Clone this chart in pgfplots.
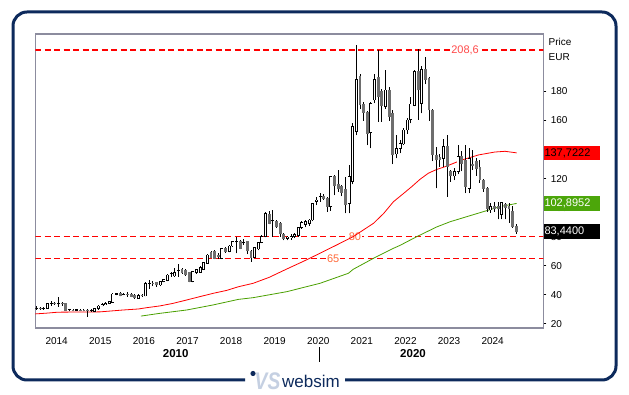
\documentclass[border=0pt]{standalone}
\usepackage{fontspec}
\setmainfont{Liberation Sans}
\usepackage{pgfplots}
\usepackage{pgfplotstable}
\pgfplotsset{compat=1.18}
\definecolor{navy}{HTML}{0D2A5C}
\definecolor{framegray}{HTML}{8C8C9E}
\definecolor{candlegray}{HTML}{6E6E6E}
\definecolor{magreen}{HTML}{4AA000}
\definecolor{boxgreen}{HTML}{4CA60A}
\definecolor{lblred}{HTML}{FF4A4A}
\definecolor{lblorange}{HTML}{FF6A3A}
\definecolor{logolight}{HTML}{C5D0E2}

% monthly candles: k o h l c  (rising = white)
\pgfplotstableread{
k o h l c
0 30.5 32.0 29.5 30.9
2 30.4 31.8 29.6 30.9
3 30.7 34.5 30.3 34.1
4 34.0 35.5 32.5 34.3
6 33.7 38.2 31.8 34.0
9 29.5 30.4 28.6 29.7
11 29.4 30.3 28.9 29.6
15 29.0 30.0 28.2 29.4
16 28.6 30.8 28.0 30.3
17 30.3 32.8 29.8 32.2
18 32.3 34.0 32.0 33.4
19 33.5 34.8 33.0 34.1
20 34.0 36.0 33.6 35.4
21 34.8 41.0 34.4 40.5
22 40.4 41.5 39.5 40.7
24 39.8 41.3 39.0 40.4
28 37.6 40.2 37.2 39.6
30 39.2 48.5 38.8 47.9
31 47.9 50.0 44.0 48.1
34 46.7 49.5 46.0 49.0
35 49.0 51.0 48.5 50.6
36 49.7 54.0 49.3 53.6
37 54.6 55.5 52.5 54.9
38 52.9 58.2 52.5 55.2
39 56.4 61.2 52.5 56.8
43 49.0 56.5 48.5 55.9
44 55.2 58.0 54.5 57.1
45 55.5 59.5 55.0 59.0
46 57.5 62.8 57.0 62.1
47 61.7 68.0 61.2 67.4
51 65.1 72.5 64.5 72.0
53 69.7 74.2 69.2 73.6
54 73.6 77.0 73.0 76.5
55 76.3 80.0 68.5 76.7
57 75.6 78.5 74.5 75.9
60 65.8 73.0 65.0 72.5
61 71.5 76.5 70.5 76.0
62 76.0 81.0 75.5 80.0
63 80.0 97.0 79.5 96.1
65 91.0 98.4 80.0 91.5
69 79.0 80.8 77.5 79.8
70 79.6 81.5 78.0 80.3
71 80.3 82.5 79.0 81.5
72 80.8 87.0 80.0 86.4
73 86.4 90.5 85.5 89.9
74 88.5 91.5 86.5 90.3
75 89.0 92.5 87.5 91.5
76 91.5 103.5 90.5 103.0
77 104.5 107.5 101.8 105.3
78 107.5 110.0 104.0 108.0
81 100.7 122.0 98.0 121.3
86 102.9 129.4 96.1 121.3
87 118.0 158.0 116.0 155.8
88 152.3 212.0 150.0 188.4
92 151.6 173.0 140.9 171.9
93 174.1 192.0 172.0 188.4
96 169.5 194.8 168.0 181.0
99 137.0 150.0 134.0 140.9
100 140.9 146.5 137.5 144.3
101 143.9 155.0 143.0 153.5
102 153.5 162.0 151.0 160.4
103 160.5 176.0 158.0 171.4
104 170.5 195.0 170.0 193.5
106 172.0 197.5 165.0 195.0
112 134.0 147.0 128.0 142.0
115 121.8 127.0 119.0 124.8
116 124.8 143.0 123.0 135.1
119 113.3 141.0 110.0 134.0
125 98.4 103.0 96.5 100.7
128 95.3 104.0 92.0 103.3
}\candleUp

% falling = grey
\pgfplotstableread{
k o h l c
1 30.9 31.5 29.8 30.5
5 34.2 35.0 33.0 33.8
7 34.0 35.0 32.5 33.5
8 34.1 34.6 29.0 29.3
10 29.6 30.3 28.8 29.4
12 29.5 30.0 28.8 29.3
13 29.3 30.0 28.5 29.2
14 29.2 30.0 25.0 29.0
23 41.0 41.6 38.8 39.3
25 40.0 42.2 38.5 39.8
26 40.5 41.0 38.3 38.7
27 39.9 40.3 37.2 37.8
29 39.4 40.5 38.5 39.2
32 48.0 49.5 46.0 47.8
33 48.3 49.0 45.5 46.7
40 57.5 58.5 54.5 55.2
41 56.6 57.5 53.0 53.6
42 55.2 56.0 48.5 49.0
48 69.0 70.0 65.2 65.8
49 69.7 70.5 64.5 65.1
50 67.0 68.5 64.5 66.0
52 72.0 73.0 69.0 69.7
56 76.5 77.5 71.5 72.0
58 76.5 77.0 68.0 70.0
59 70.0 71.0 62.8 65.8
64 95.6 97.5 88.5 89.2
66 90.3 91.5 86.0 86.9
67 89.2 90.3 80.0 82.3
68 81.8 82.5 77.5 78.9
79 108.0 109.5 105.5 106.4
80 106.4 107.0 97.0 100.7
82 121.8 122.5 108.7 114.9
83 116.0 125.9 111.0 113.0
84 114.4 115.5 108.0 110.3
85 112.6 121.0 96.1 101.8
89 190.7 192.0 168.0 170.7
90 171.4 173.0 160.0 165.4
91 165.4 166.5 143.0 151.2
94 189.8 208.6 159.0 176.4
95 179.9 182.0 159.0 170.0
97 181.0 183.0 160.0 162.7
98 165.0 167.0 130.0 136.3
105 193.7 209.0 160.4 181.0
107 195.3 204.0 185.0 188.4
108 189.1 190.0 160.0 167.3
109 167.3 168.0 132.0 136.3
110 136.3 142.0 113.3 132.8
111 134.5 137.0 128.0 133.0
113 142.0 150.0 107.6 128.2
114 124.8 126.0 118.0 121.8
117 135.1 139.0 125.0 130.5
118 132.8 143.0 110.0 114.5
120 130.0 140.0 126.0 129.0
121 131.7 134.0 122.0 127.0
122 127.5 133.0 117.0 119.1
123 119.1 120.0 111.0 113.3
124 113.3 114.0 97.0 99.5
126 101.0 104.0 97.0 99.0
127 101.0 104.0 92.0 99.5
129 102.0 103.5 92.0 100.0
130 101.0 103.3 89.5 99.0
131 97.3 101.0 86.0 86.9
132 86.9 89.0 82.0 83.44
}\candleDown

\pgfplotstableread{
k v
-0.4 26.8
2.6 27.3
5.9 28.0
17.4 28.2
23.8 29.5
28 30.2
30.3 31.1
33.9 32.3
37.6 34.1
41.3 36.4
44.9 38.7
48.6 41.0
52.3 43.0
55.5 45.5
59.6 47.9
64 52.0
68.8 57.7
73.4 63.0
78 68.6
82.5 74.2
87.1 80.0
92.7 89.2
95.5 96.0
98.2 104.1
100.6 109.0
103.2 114.4
105.5 119.5
107.8 123.7
110 126.2
112.4 128.2
117 132.8
121.6 136.3
126.1 138.3
128.9 138.8
132.1 137.7222
}\redma

\pgfplotstableread{
k v
28.7 25.3
33.9 27.2
41.3 29.5
48.6 33.0
55.5 36.8
59.6 38.0
68.8 42.1
78 47.9
85.8 54.8
87.1 57.5
92.7 65.1
98.2 72.0
100 74.0
104.6 80.0
110.1 86.7
113.8 90.3
118.4 93.8
122.9 97.2
127.5 100.7
132.1 102.8952
}\greenma

\pgfplotsset{
  candlebar/.style={only marks, mark size=0pt, mark options={draw=none, fill=none},
    error bars/.cd, y dir=plus, y explicit, error mark=none,
    error bar style={#1}},
}

\begin{document}
\begin{tikzpicture}[x=1pt,y=1pt]
\fill[white] (0,0) rectangle (629,395);
\useasboundingbox (0,0) rectangle (629,395);
% outer frame
\draw[navy, line width=3pt, rounded corners=14pt] (245,15) -- (13,15) -- (13,383) -- (616,383) -- (616,15) -- (345,15);

\begin{axis}[
  at={(35.3pt,67pt)}, anchor=south west,
  scale only axis, width=508pt, height=294pt,
  xmin=-0.385, xmax=139.44, ymin=17.1, ymax=219.6,
  axis line style={draw=framegray, line width=1.2pt},
  xtick={5.5,17.5,29.5,41.5,53.5,65.5,77.5,89.5,101.5,113.5,125.5},
  xticklabels={2014,2015,2016,2017,2018,2019,2020,2021,2022,2023,2024},
  xtick pos=bottom,
  xtick style={draw=none},
  ytick={20,40,60,80,100,120,140,160,180},
  ytick pos=right, yticklabel pos=right,
  ytick style={draw=black, line width=0.8pt},
  tick align=outside, major tick length=3pt,
  minor tick num=0,
  /pgf/number format/assume math mode=true,
  ticklabel style={font=\fontsize{10}{12}\selectfont, text=black},
  xticklabel style={yshift=-3pt},
  yticklabel style={xshift=1pt},
  clip=true,
]
% horizontal lines
\addplot[red, line width=1.2pt, dash pattern=on 6pt off 3.5pt] coordinates {(-0.4,208.6) (139.5,208.6)};
\addplot[red, line width=1.2pt, dash pattern=on 6pt off 3.5pt] coordinates {(-0.4,80) (139.5,80)};
\addplot[red, line width=1.2pt, dash pattern=on 6pt off 3.5pt] coordinates {(-0.4,65) (139.5,65)};
\node[fill=white, inner sep=1pt, text=lblred, font=\fontsize{11}{13}\selectfont] at (axis cs:117.9,208.6) {208,6};
\node[fill=white, inner sep=0.5pt, text=lblorange, font=\fontsize{11}{13}\selectfont] at (axis cs:87.6,80) {80};
\node[fill=white, inner sep=1pt, text=lblorange, font=\fontsize{11}{13}\selectfont] at (axis cs:81.6,65) {65};
% moving averages
\addplot[red, line width=0.8pt] table[x=k,y=v]{\redma};
\addplot[magreen, line width=0.8pt] table[x=k,y=v]{\greenma};
% wicks
\addplot[candlebar={draw=black, line width=1pt}]
  table[x=k, y=l, y error plus expr=\thisrow{h}-\thisrow{l}]{\candleUp};
\addplot[candlebar={draw=black, line width=1pt}]
  table[x=k, y=l, y error plus expr=\thisrow{h}-\thisrow{l}]{\candleDown};
% falling bodies
\addplot[candlebar={draw=candlegray, line width=2.8pt}]
  table[x=k, y expr=\thisrow{c}-0.2, y error plus expr=\thisrow{o}-\thisrow{c}+0.4]{\candleDown};
% rising bodies: outline then white inside
\addplot[candlebar={draw=black, line width=3pt}]
  table[x=k, y expr=\thisrow{o}-0.3, y error plus expr=\thisrow{c}-\thisrow{o}+0.6]{\candleUp};
\addplot[candlebar={draw=white, line width=1.3pt}]
  table[x=k, y expr=\thisrow{o}+0.25, y error plus expr={max(\thisrow{c}-\thisrow{o}-0.5,0)}]{\candleUp};
\coordinate (rbox) at (axis cs:139.44,137.7222);
\coordinate (gbox) at (axis cs:139.44,102.8952);
\coordinate (kbox) at (axis cs:139.44,83.44);
\end{axis}

% value boxes
\node[anchor=west, fill=red, text=black, inner xsep=1pt, inner ysep=0pt, minimum height=14.5pt, text width=54pt, font=\fontsize{11}{13}\selectfont] at (rbox) {137,7222};
\node[anchor=west, fill=boxgreen, text=white, inner xsep=1pt, inner ysep=0pt, minimum height=14.5pt, text width=54pt, font=\fontsize{11}{13}\selectfont] at (gbox) {102,8952};
\node[anchor=west, fill=black, text=white, inner xsep=1pt, inner ysep=0pt, minimum height=14.5pt, text width=54pt, font=\fontsize{11}{13}\selectfont] at (kbox) {83,4400};

% price unit labels
\node[anchor=west, inner sep=0pt, font=\fontsize{10}{12}\selectfont] at (548.5,353.5) {Price};
\node[anchor=west, inner sep=0pt, font=\fontsize{10}{12}\selectfont] at (548.5,338.3) {EUR};

% decade labels
\node[font=\bfseries\fontsize{11.5}{13}\selectfont] at (175.7,41) {2010};
\node[font=\bfseries\fontsize{11.5}{13}\selectfont] at (413,41) {2020};
\draw[black, line width=1pt] (319,47.5) -- (319,33);

% logo
\fill[navy] (253,21.5) circle (2.6);
\node[text=logolight, font=\bfseries\itshape\fontsize{24}{24}\selectfont, xscale=0.8] at (267.5,14) {VS};
\node[text=navy, font=\fontsize{17}{17}\selectfont] at (311,13.5) {websim};
\end{tikzpicture}
\end{document}
